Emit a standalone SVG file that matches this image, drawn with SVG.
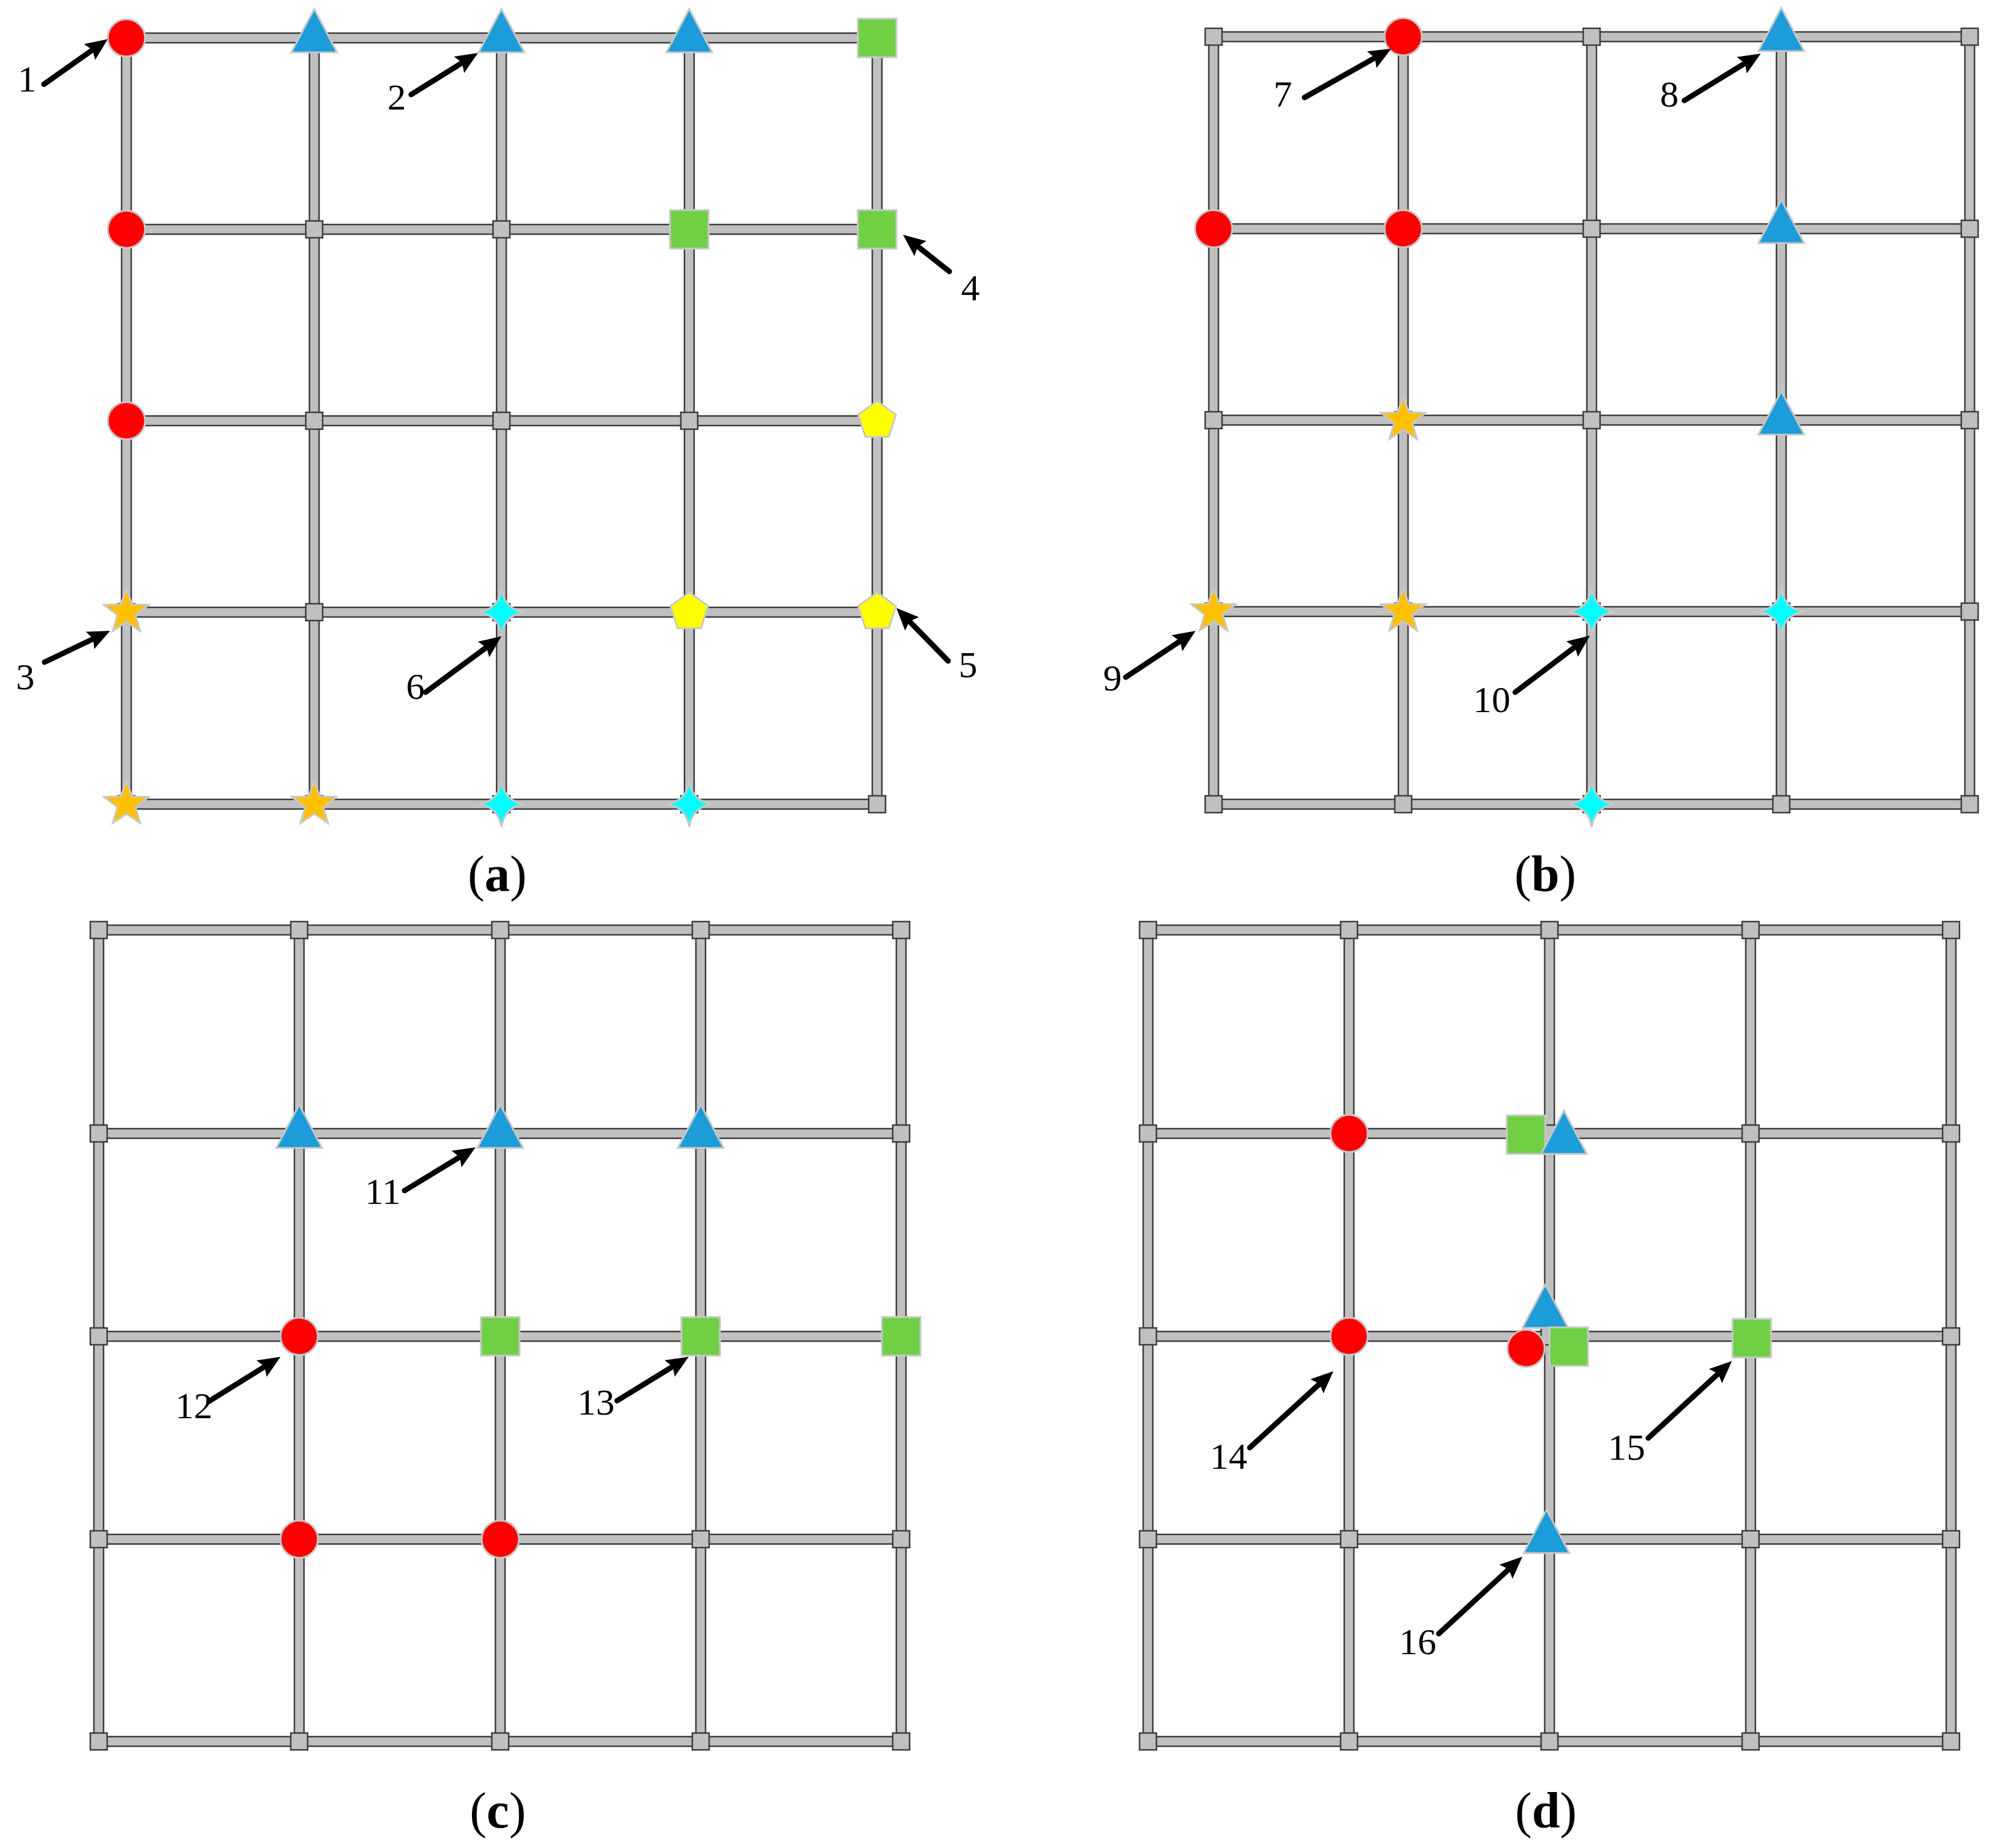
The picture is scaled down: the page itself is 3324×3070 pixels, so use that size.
<svg xmlns="http://www.w3.org/2000/svg" xmlns:xlink="http://www.w3.org/1999/xlink" width="3324" height="3070" viewBox="0 0 3324 3070">
<style>
.bar{fill:#c0c0c0;stroke:#3c3c3c;stroke-width:2.5}
.jn{fill:#c0c0c0;stroke:#3c3c3c;stroke-width:2.5}
.mk{stroke:#c8c8c8;stroke-width:3}
.red{fill:#ff0000}
.blue{fill:#1c9cd8}
.green{fill:#6fd043}
.gold{fill:#ffc000}
.cyan{fill:#00ffff}
.yel{fill:#ffff00}
.arr{stroke:#000;stroke-width:9;fill:none;stroke-linecap:round;marker-end:url(#ah)}
.lbl{font-family:"Liberation Serif","Times New Roman",serif;font-size:62px;fill:#000;text-anchor:middle}
.cap{font-family:"Liberation Serif","Times New Roman",serif;font-size:84px;fill:#000;text-anchor:middle}
</style>
<defs>
<marker id="ah" markerUnits="userSpaceOnUse" markerWidth="80" markerHeight="80" refX="0" refY="0" orient="auto" overflow="visible">
<path d="M28,0 L-9,-16 L-3,0 L-9,16 Z" fill="#000"/>
</marker>
<rect id="jn" x="-14" y="-14" width="28" height="28" class="jn"/>
<circle id="ci" r="31"/>
<polygon id="tri" points="0,-48 38,24 -38,24"/>
<rect id="sq" x="-32" y="-32" width="64" height="64"/>
<polygon id="st5" points="0,-39 9.4,-12.94 37.09,-12.05 15.22,4.94 22.92,31.55 0,16 -22.92,31.55 -15.22,4.94 -37.09,-12.05 -9.4,-12.94"/>
<polygon id="pent" points="0,-33 31.38,-10.2 19.4,26.7 -19.4,26.7 -31.38,-10.2"/>
<path id="st4" d="M0,-38 Q5,-5 38,0 Q5,5 0,38 Q-5,5 -38,0 Q-5,-5 0,-38 Z"/>
</defs>
<rect width="3324" height="3070" fill="#fff"/>

<!-- Panel A grid -->
<g id="gridA">
<rect class="bar" x="210" y="55" width="1247" height="16"/>
<rect class="bar" x="210" y="373" width="1247" height="16"/>
<rect class="bar" x="210" y="691" width="1247" height="16"/>
<rect class="bar" x="210" y="1009" width="1247" height="16"/>
<rect class="bar" x="210" y="1328" width="1247" height="16"/>
<rect class="bar" x="202" y="63" width="16" height="1273"/>
<rect class="bar" x="514" y="63" width="16" height="1273"/>
<rect class="bar" x="825" y="63" width="16" height="1273"/>
<rect class="bar" x="1137" y="63" width="16" height="1273"/>
<rect class="bar" x="1449" y="63" width="16" height="1273"/>
</g>
<g id="junctionsA">
<use href="#jn" x="210" y="63"/><use href="#jn" x="522" y="63"/><use href="#jn" x="833" y="63"/><use href="#jn" x="1145" y="63"/><use href="#jn" x="1457" y="63"/>
<use href="#jn" x="210" y="381"/><use href="#jn" x="522" y="381"/><use href="#jn" x="833" y="381"/><use href="#jn" x="1145" y="381"/><use href="#jn" x="1457" y="381"/>
<use href="#jn" x="210" y="699"/><use href="#jn" x="522" y="699"/><use href="#jn" x="833" y="699"/><use href="#jn" x="1145" y="699"/><use href="#jn" x="1457" y="699"/>
<use href="#jn" x="210" y="1017"/><use href="#jn" x="522" y="1017"/><use href="#jn" x="833" y="1017"/><use href="#jn" x="1145" y="1017"/><use href="#jn" x="1457" y="1017"/>
<use href="#jn" x="210" y="1336"/><use href="#jn" x="522" y="1336"/><use href="#jn" x="833" y="1336"/><use href="#jn" x="1145" y="1336"/><use href="#jn" x="1457" y="1336"/>
</g>
<g id="nodesA">
<g id="a-r0c0"><use href="#ci" class="mk red" x="210" y="63"/></g>
<g id="a-r0c1"><use href="#tri" class="mk blue" x="522" y="63"/></g>
<g id="a-r0c2"><use href="#tri" class="mk blue" x="833" y="63"/></g>
<g id="a-r0c3"><use href="#tri" class="mk blue" x="1145" y="63"/></g>
<g id="a-r0c4"><use href="#sq" class="mk green" x="1457" y="63"/></g>
<g id="a-r1c0"><use href="#ci" class="mk red" x="210" y="381"/></g>
<g id="a-r1c3"><use href="#sq" class="mk green" x="1145" y="381"/></g>
<g id="a-r1c4"><use href="#sq" class="mk green" x="1457" y="381"/></g>
<g id="a-r2c0"><use href="#ci" class="mk red" x="210" y="699"/></g>
<g id="a-r2c4"><use href="#pent" class="mk yel" x="1457" y="699"/></g>
<g id="a-r3c0"><use href="#st5" class="mk gold" x="210" y="1017"/></g>
<g id="a-r3c2"><use href="#st4" class="mk cyan" x="833" y="1017"/></g>
<g id="a-r3c3"><use href="#pent" class="mk yel" x="1145" y="1017"/></g>
<g id="a-r3c4"><use href="#pent" class="mk yel" x="1457" y="1017"/></g>
<g id="a-r4c0"><use href="#st5" class="mk gold" x="210" y="1336"/></g>
<g id="a-r4c1"><use href="#st5" class="mk gold" x="522" y="1336"/></g>
<g id="a-r4c2"><use href="#st4" class="mk cyan" x="833" y="1336"/></g>
<g id="a-r4c3"><use href="#st4" class="mk cyan" x="1145" y="1336"/></g>
</g>

<!-- Panel B grid -->
<g id="gridB">
<rect class="bar" x="2016" y="53" width="1256" height="16"/>
<rect class="bar" x="2016" y="372" width="1256" height="16"/>
<rect class="bar" x="2016" y="690" width="1256" height="16"/>
<rect class="bar" x="2016" y="1008" width="1256" height="16"/>
<rect class="bar" x="2016" y="1328" width="1256" height="16"/>
<rect class="bar" x="2008" y="61" width="16" height="1275"/>
<rect class="bar" x="2323" y="61" width="16" height="1275"/>
<rect class="bar" x="2636" y="61" width="16" height="1275"/>
<rect class="bar" x="2951" y="61" width="16" height="1275"/>
<rect class="bar" x="3264" y="61" width="16" height="1275"/>
</g>
<g id="junctionsB">
<use href="#jn" x="2016" y="61"/><use href="#jn" x="2331" y="61"/><use href="#jn" x="2644" y="61"/><use href="#jn" x="2959" y="61"/><use href="#jn" x="3272" y="61"/>
<use href="#jn" x="2016" y="380"/><use href="#jn" x="2331" y="380"/><use href="#jn" x="2644" y="380"/><use href="#jn" x="2959" y="380"/><use href="#jn" x="3272" y="380"/>
<use href="#jn" x="2016" y="698"/><use href="#jn" x="2331" y="698"/><use href="#jn" x="2644" y="698"/><use href="#jn" x="2959" y="698"/><use href="#jn" x="3272" y="698"/>
<use href="#jn" x="2016" y="1016"/><use href="#jn" x="2331" y="1016"/><use href="#jn" x="2644" y="1016"/><use href="#jn" x="2959" y="1016"/><use href="#jn" x="3272" y="1016"/>
<use href="#jn" x="2016" y="1336"/><use href="#jn" x="2331" y="1336"/><use href="#jn" x="2644" y="1336"/><use href="#jn" x="2959" y="1336"/><use href="#jn" x="3272" y="1336"/>
</g>
<g id="nodesB">
<g id="b-r0c1"><use href="#ci" class="mk red" x="2331" y="61"/></g>
<g id="b-r0c3"><use href="#tri" class="mk blue" x="2959" y="61"/></g>
<g id="b-r1c0"><use href="#ci" class="mk red" x="2016" y="380"/></g>
<g id="b-r1c1"><use href="#ci" class="mk red" x="2331" y="380"/></g>
<g id="b-r1c3"><use href="#tri" class="mk blue" x="2959" y="380"/></g>
<g id="b-r2c1"><use href="#st5" class="mk gold" x="2331" y="698"/></g>
<g id="b-r2c3"><use href="#tri" class="mk blue" x="2959" y="698"/></g>
<g id="b-r3c0"><use href="#st5" class="mk gold" x="2016" y="1016"/></g>
<g id="b-r3c1"><use href="#st5" class="mk gold" x="2331" y="1016"/></g>
<g id="b-r3c2"><use href="#st4" class="mk cyan" x="2644" y="1016"/></g>
<g id="b-r3c3"><use href="#st4" class="mk cyan" x="2959" y="1016"/></g>
<g id="b-r4c2"><use href="#st4" class="mk cyan" x="2644" y="1336"/></g>
</g>

<!-- Panel C grid -->
<g id="gridC">
<rect class="bar" x="164" y="1537" width="1333" height="16"/>
<rect class="bar" x="164" y="1875" width="1333" height="16"/>
<rect class="bar" x="164" y="2212" width="1333" height="16"/>
<rect class="bar" x="164" y="2549" width="1333" height="16"/>
<rect class="bar" x="164" y="2885" width="1333" height="16"/>
<rect class="bar" x="156" y="1545" width="16" height="1348"/>
<rect class="bar" x="489" y="1545" width="16" height="1348"/>
<rect class="bar" x="823" y="1545" width="16" height="1348"/>
<rect class="bar" x="1156" y="1545" width="16" height="1348"/>
<rect class="bar" x="1489" y="1545" width="16" height="1348"/>
</g>
<g id="junctionsC">
<use href="#jn" x="164" y="1545"/><use href="#jn" x="497" y="1545"/><use href="#jn" x="831" y="1545"/><use href="#jn" x="1164" y="1545"/><use href="#jn" x="1497" y="1545"/>
<use href="#jn" x="164" y="1883"/><use href="#jn" x="497" y="1883"/><use href="#jn" x="831" y="1883"/><use href="#jn" x="1164" y="1883"/><use href="#jn" x="1497" y="1883"/>
<use href="#jn" x="164" y="2220"/><use href="#jn" x="497" y="2220"/><use href="#jn" x="831" y="2220"/><use href="#jn" x="1164" y="2220"/><use href="#jn" x="1497" y="2220"/>
<use href="#jn" x="164" y="2557"/><use href="#jn" x="497" y="2557"/><use href="#jn" x="831" y="2557"/><use href="#jn" x="1164" y="2557"/><use href="#jn" x="1497" y="2557"/>
<use href="#jn" x="164" y="2893"/><use href="#jn" x="497" y="2893"/><use href="#jn" x="831" y="2893"/><use href="#jn" x="1164" y="2893"/><use href="#jn" x="1497" y="2893"/>
</g>
<g id="nodesC">
<g id="c-r1c1"><use href="#tri" class="mk blue" x="497" y="1883"/></g>
<g id="c-r1c2"><use href="#tri" class="mk blue" x="831" y="1883"/></g>
<g id="c-r1c3"><use href="#tri" class="mk blue" x="1164" y="1883"/></g>
<g id="c-r2c1"><use href="#ci" class="mk red" x="497" y="2220"/></g>
<g id="c-r2c2"><use href="#sq" class="mk green" x="831" y="2220"/></g>
<g id="c-r2c3"><use href="#sq" class="mk green" x="1164" y="2220"/></g>
<g id="c-r2c4"><use href="#sq" class="mk green" x="1497" y="2220"/></g>
<g id="c-r3c1"><use href="#ci" class="mk red" x="497" y="2557"/></g>
<g id="c-r3c2"><use href="#ci" class="mk red" x="831" y="2557"/></g>
</g>

<!-- Panel D grid -->
<g id="gridD">
<rect class="bar" x="1907" y="1537" width="1334" height="16"/>
<rect class="bar" x="1907" y="1875" width="1334" height="16"/>
<rect class="bar" x="1907" y="2212" width="1334" height="16"/>
<rect class="bar" x="1907" y="2549" width="1334" height="16"/>
<rect class="bar" x="1907" y="2885" width="1334" height="16"/>
<rect class="bar" x="1899" y="1545" width="16" height="1348"/>
<rect class="bar" x="2233" y="1545" width="16" height="1348"/>
<rect class="bar" x="2566" y="1545" width="16" height="1348"/>
<rect class="bar" x="2900" y="1545" width="16" height="1348"/>
<rect class="bar" x="3233" y="1545" width="16" height="1348"/>
</g>
<g id="junctionsD">
<use href="#jn" x="1907" y="1545"/><use href="#jn" x="2241" y="1545"/><use href="#jn" x="2574" y="1545"/><use href="#jn" x="2908" y="1545"/><use href="#jn" x="3241" y="1545"/>
<use href="#jn" x="1907" y="1883"/><use href="#jn" x="2241" y="1883"/><use href="#jn" x="2574" y="1883"/><use href="#jn" x="2908" y="1883"/><use href="#jn" x="3241" y="1883"/>
<use href="#jn" x="1907" y="2220"/><use href="#jn" x="2241" y="2220"/><use href="#jn" x="2574" y="2220"/><use href="#jn" x="2908" y="2220"/><use href="#jn" x="3241" y="2220"/>
<use href="#jn" x="1907" y="2557"/><use href="#jn" x="2241" y="2557"/><use href="#jn" x="2574" y="2557"/><use href="#jn" x="2908" y="2557"/><use href="#jn" x="3241" y="2557"/>
<use href="#jn" x="1907" y="2893"/><use href="#jn" x="2241" y="2893"/><use href="#jn" x="2574" y="2893"/><use href="#jn" x="2908" y="2893"/><use href="#jn" x="3241" y="2893"/>
</g>
<g id="nodesD">
<g id="d-r1c1"><use href="#ci" class="mk red" x="2241" y="1883"/></g>
<g id="d-r1c2-sq"><use href="#sq" class="mk green" x="2535" y="1885"/></g>
<g id="d-r1c2-tri"><use href="#tri" class="mk blue" x="2598" y="1893"/></g>
<g id="d-r2c1"><use href="#ci" class="mk red" x="2241" y="2220"/></g>
<g id="d-r2c2-tri"><use href="#tri" class="mk blue" x="2567" y="2182"/></g>
<g id="d-r2c2-ci"><use href="#ci" class="mk red" x="2535" y="2240"/></g>
<g id="d-r2c2-sq"><use href="#sq" class="mk green" x="2606" y="2237"/></g>
<g id="d-r2c3"><use href="#sq" class="mk green" x="2910" y="2223"/></g>
<g id="d-r3c2"><use href="#tri" class="mk blue" x="2569" y="2556"/></g>
</g>

<!-- Connectors (arrows) -->
<g id="connectors">
<line class="arr" x1="73" y1="140" x2="156.2" y2="81.2"/>
<line class="arr" x1="683" y1="157" x2="770.2" y2="102.8"/>
<line class="arr" x1="74" y1="1100" x2="157.7" y2="1060"/>
<line class="arr" x1="1577" y1="451" x2="1522" y2="407.4"/>
<line class="arr" x1="1575" y1="1098" x2="1508.6" y2="1030"/>
<line class="arr" x1="707" y1="1150" x2="810.5" y2="1073.6"/>
<line class="arr" x1="2167" y1="162" x2="2286.6" y2="94.7"/>
<line class="arr" x1="2798" y1="167" x2="2901.1" y2="103.7"/>
<line class="arr" x1="1870" y1="1125" x2="1962.7" y2="1063.5"/>
<line class="arr" x1="2517" y1="1150" x2="2618.7" y2="1072.9"/>
<line class="arr" x1="672" y1="1978" x2="766.1" y2="1920.6"/>
<line class="arr" x1="347" y1="2328" x2="442.2" y2="2268.8"/>
<line class="arr" x1="1025" y1="2327" x2="1120.1" y2="2268.6"/>
<line class="arr" x1="2076" y1="2405" x2="2194.3" y2="2296.9"/>
<line class="arr" x1="2738" y1="2389" x2="2856.4" y2="2280"/>
<line class="arr" x1="2390" y1="2714" x2="2508.4" y2="2605"/>
</g>

<!-- Labels -->
<g id="labels">
<text class="lbl" x="45" y="152">1</text>
<text class="lbl" x="659" y="182">2</text>
<text class="lbl" x="42" y="1145">3</text>
<text class="lbl" x="1612" y="499">4</text>
<text class="lbl" x="1608" y="1125">5</text>
<text class="lbl" x="690" y="1161">6</text>
<text class="lbl" x="2131" y="177">7</text>
<text class="lbl" x="2773" y="177">8</text>
<text class="lbl" x="1848" y="1147">9</text>
<text class="lbl" x="2478" y="1183">10</text>
<text class="lbl" x="636" y="2000">11</text>
<text class="lbl" x="322" y="2356">12</text>
<text class="lbl" x="990" y="2350">13</text>
<text class="lbl" x="2041" y="2440">14</text>
<text class="lbl" x="2702" y="2425">15</text>
<text class="lbl" x="2355" y="2748">16</text>
</g>
<g id="captions">
<text class="cap" x="826" y="1480">(<tspan font-weight="bold">a</tspan>)</text>
<text class="cap" x="2567" y="1480">(<tspan font-weight="bold">b</tspan>)</text>
<text class="cap" x="827" y="3036">(<tspan font-weight="bold">c</tspan>)</text>
<text class="cap" x="2568" y="3036">(<tspan font-weight="bold">d</tspan>)</text>
</g>
</svg>
